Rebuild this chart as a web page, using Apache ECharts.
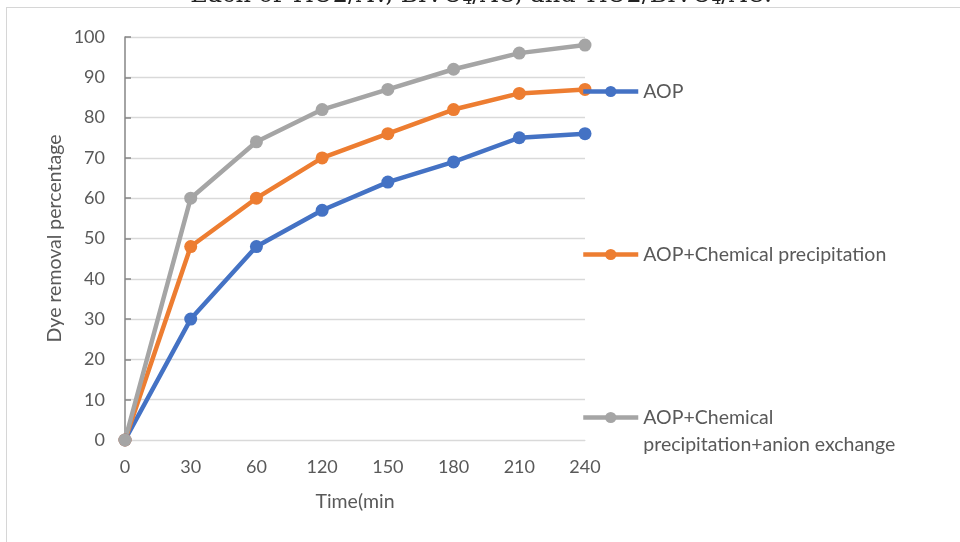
<!DOCTYPE html>
<html>
<head>
<meta charset="utf-8">
<script src="https://cdn.jsdelivr.net/npm/echarts@6/dist/echarts.min.js"></script>
<style>
  html, body { margin: 0; padding: 0; background: #ffffff; }
  #wrap { position: relative; width: 960px; height: 542px; overflow: hidden; }
  #chart { position: absolute; left: 0; top: 0; width: 960px; height: 542px; }
  #frame { position: absolute; left: 6px; top: 7px; right: -2px; bottom: -2px;
           border-left: 1px solid #d6d6d6; border-top: 1px solid #d6d6d6; pointer-events: none; }
</style>
</head>
<body>
<div id="wrap">
  <div id="chart"></div>
  <div id="frame"></div>
</div>
<script>
// Sampling times (min) and dye removal (%) for each treatment
const times = ['0', '30', '60', '120', '150', '180', '210', '240'];
const aop = [0, 30, 48, 57, 64, 69, 75, 76];
const aopPrecip = [0, 48, 60, 70, 76, 82, 86, 87];
const aopPrecipAnion = [0, 60, 74, 82, 87, 92, 96, 98];

const seriesNames = ['AOP', 'AOP+Chemical precipitation', 'AOP+Chemical precipitation+anion exchange'];
const seriesColors = ['#4472C4', '#ED7D31', '#A5A5A5'];
const yTicks = { min: 0, max: 100, step: 10 };

const FONT = 'Lato';
const TEXT = '#595959';

const chart = echarts.init(document.getElementById('chart'), null, { renderer: 'canvas' });

function lineSeries(name, data, color) {
  return {
    name: name,
    type: 'line',
    data: data,
    symbol: 'circle',
    symbolSize: 13,
    showSymbol: true,
    lineStyle: { color: color, width: 4.5 },
    itemStyle: { color: color },
    emphasis: { disabled: true },
    animation: false
  };
}

const legendText = { fontFamily: FONT, fontSize: 19.5, color: TEXT, lineHeight: 27 };
const legendBase = {
  orient: 'vertical', left: 581, padding: 0,
  itemWidth: 55, itemHeight: 14, selectedMode: false,
  lineStyle: { width: 4.5 },
  textStyle: legendText
};

chart.setOption({
  backgroundColor: '#ffffff',
  animation: false,
  graphic: [{
    type: 'text',
    x: 481,
    y: 8,
    silent: true,
    style: {
      text: 'Each of TiO2/AV, BiVO{sub|4}/AC, and TiO2/BiVO{sub|4}/AC.',
      align: 'center',
      verticalAlign: 'bottom',
      fontFamily: 'DejaVu Serif',
      fontSize: 24,
      fill: '#222222',
      rich: {
        sub: { fontFamily: 'DejaVu Serif', fontSize: 15, lineHeight: 6, verticalAlign: 'bottom', fill: '#222222' }
      }
    }
  }],
  grid: { left: 125, right: 375, top: 37, bottom: 102, containLabel: false },
  legend: [
    Object.assign({}, legendBase, { data: [seriesNames[0]], top: 78 }),
    Object.assign({}, legendBase, { data: [seriesNames[1]], top: 241 }),
    Object.assign({}, legendBase, {
      data: [seriesNames[2]], top: 377,
      // leading blank line keeps the icon level with the first text line
      formatter: function () { return '\nAOP+Chemical\nprecipitation+anion exchange'; }
    })
  ],
  xAxis: {
    type: 'category',
    data: times,
    boundaryGap: false,
    name: 'Time(min',
    nameLocation: 'middle',
    nameGap: 52,
    nameTextStyle: { fontFamily: FONT, fontSize: 19.5, color: TEXT },
    axisLine: { show: true, lineStyle: { color: '#d9d9d9', width: 1 } },
    axisTick: { show: false },
    axisLabel: { fontFamily: FONT, fontSize: 18, color: TEXT, margin: 18 },
    splitLine: { show: false }
  },
  yAxis: {
    type: 'value',
    min: yTicks.min,
    max: yTicks.max,
    interval: yTicks.step,
    name: 'Dye removal percentage',
    nameLocation: 'middle',
    nameGap: 60,
    nameRotate: 90,
    nameTextStyle: { fontFamily: FONT, fontSize: 19.5, color: TEXT },
    axisLine: { show: true, lineStyle: { color: '#868686', width: 1.5 } },
    axisTick: { show: true, inside: true, length: 6, lineStyle: { color: '#868686', width: 1.5 } },
    axisLabel: { fontFamily: FONT, fontSize: 18, color: TEXT, margin: 20 },
    splitLine: { show: true, lineStyle: { color: '#d9d9d9', width: 1.3 } }
  },
  series: [
    lineSeries(seriesNames[0], aop, seriesColors[0]),
    lineSeries(seriesNames[1], aopPrecip, seriesColors[1]),
    lineSeries(seriesNames[2], aopPrecipAnion, seriesColors[2])
  ]
});
</script>
</body>
</html>
